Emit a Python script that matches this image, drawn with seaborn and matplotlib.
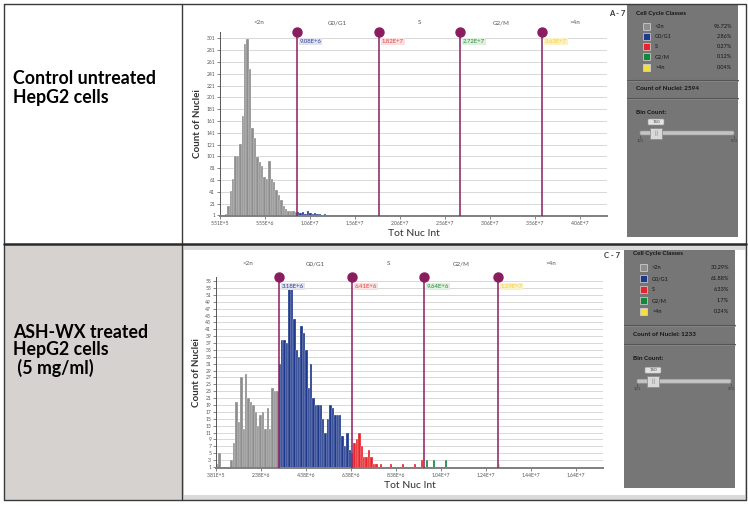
import matplotlib
matplotlib.use("Agg")
import matplotlib.pyplot as plt
import matplotlib.transforms as mtransforms
from matplotlib.patches import Rectangle, FancyBboxPatch
import seaborn as sns
import numpy as np
import pandas as pd

W, H = 748, 508

# ---- data -------------------------------------------------------------
classes = ["<2n", "G0/G1", "S", "G2/M", ">4n"]
class_colors = ["#8e8e8e", "#1f3a8c", "#e8232b", "#17863b", "#f3df45"]
cursor_text_colors = ["#2c3f9c", "#e4413d", "#2a8c3c", "#f0d23a"]
cursor_text_bg = ["#e1e2ee", "#f8e0e0", "#ddefdd", "#fbf1c6"]
n_bins = 150

# panel A: control untreated HepG2
a_range = (5.51e5, 4.07e7)
a_cursors = [9.08e6, 1.82e7, 2.72e7, 3.63e7]
a_cursor_labels = ["9.08E+6", "1.82E+7", "2.72E+7", "3.63E+7"]
a_lt2n = [2, 1, 3, 17, 42, 62, 101, 102, 122, 170, 292, 300, 249, 150, 132, 100,
          92, 84, 66, 62, 93, 62, 58, 44, 36, 27, 17, 12, 9, 8, 9, 6]
a_g0g1 = [6, 5, 7, 4, 8, 5, 4, 5, 3, 4, 2, 3, 2, 1, 2, 1, 0, 0, 1, 2, 1, 2, 1, 0, 1, 0, 1]
a_s_nuclei = [1.92e7, 2.13e7, 2.28e7, 2.33e7, 2.38e7, 2.44e7, 2.49e7]
a_g2m_nuclei = [2.83e7, 2.85e7, 3.31e7]
a_gt4n_nuclei = [4.06e7]
a_pct = ["96.72%", "2.86%", "0.27%", "0.12%", "0.04%"]
a_total = 2594
a_xticks = [5.51e5, 5.551e6, 1.0551e7, 1.5551e7, 2.0551e7, 2.5551e7, 3.0551e7, 3.5551e7, 4.0551e7]
a_xticklabels = ["5.51E+5", "5.55E+6", "1.06E+7", "1.56E+7", "2.06E+7",
                 "2.56E+7", "3.06E+7", "3.56E+7", "4.06E+7"]
a_yticks = list(range(1, 302, 20))

# panel C: ASH-WX treated HepG2 (5 mg/ml)
c_range = (3.81e5, 1.645e7)
c_cursors = [3.18e6, 6.41e6, 9.64e6, 1.29e7]
c_cursor_labels = ["3.18E+6", "6.41E+6", "9.64E+6", "1.29E+7"]
c_lt2n = [2, 5, 1, 1, 1, 1, 3, 8, 20, 14, 27, 12, 28, 21, 20, 19, 17, 13, 16, 17,
          12, 18, 12, 24, 23, 23]
c_g0g1 = [31, 38, 38, 37, 53, 53, 44, 35, 33, 42, 40, 35, 24, 31, 21, 19, 19, 19,
          15, 11, 15, 19, 18, 16, 16, 16, 10, 7, 11, 6]
c_s = [5, 8, 9, 11, 7, 4, 4, 6, 4, 2, 2, 1, 2, 0, 1, 1, 2, 0, 1, 0, 0, 2, 0, 1,
       0, 0, 2, 0, 1, 3]
c_g2m = [1, 3, 1, 1, 3, 1, 0, 1, 0, 3, 1, 0, 0, 0, 0, 0, 0, 0, 0, 1, 0, 0, 1, 0,
         1, 1, 0, 1, 0, 1]
c_gt4n_nuclei = [1.30e7, 1.30e7, 1.64e7]
c_pct = ["30.29%", "61.88%", "6.33%", "1.7%", "0.24%"]
c_total = 1233
c_xticks = [3.81e5, 2.381e6, 4.381e6, 6.381e6, 8.381e6, 1.0381e7, 1.2381e7, 1.4381e7, 1.6381e7]
c_xticklabels = ["3.81E+5", "2.38E+6", "4.38E+6", "6.38E+6", "8.38E+6",
                 "1.04E+7", "1.24E+7", "1.44E+7", "1.64E+7"]
c_yticks = list(range(1, 56, 2))
bin_count = 150

sns.set_theme(style="white")
plt.rcParams["font.family"] = ["Lato", "DejaVu Sans"]

CURSOR = "#8a1d60"


def px_box(x0, y0, x1, y1):
    return [x0 / W, 1 - y1 / H, (x1 - x0) / W, (y1 - y0) / H]


def hist_frame(lo, hi, dense, sparse, cursors):
    edges = np.linspace(lo, hi, n_bins + 1)
    centers = (edges[:-1] + edges[1:]) / 2
    starts = [0] + [int(np.searchsorted(centers, c)) for c in cursors]
    rows = []
    for cls, start in zip(classes, starts):
        for k, n in enumerate(dense.get(cls, [])):
            rows.append((centers[start + k], n, cls))
        for v in sparse.get(cls, []):
            rows.append((v, 1, cls))
    return pd.DataFrame(rows, columns=["intensity", "count", "cls"])


def draw_panel(ax, df, binrange, xlim, ylim, xticks, xticklabels, yticks,
               cursors, cursor_labels, header_pts):
    ax.set_facecolor("none")
    sns.histplot(data=df, x="intensity", weights="count", hue="cls",
                 hue_order=classes, palette=dict(zip(classes, class_colors)),
                 bins=n_bins, binrange=binrange, alpha=1, edgecolor="white",
                 linewidth=0.2, legend=False, ax=ax)
    ax.set_xlim(*xlim)
    ax.set_ylim(*ylim)
    ax.set_xticks(xticks)
    ax.set_xticklabels(xticklabels)
    ax.set_yticks(yticks)
    ax.grid(axis="y", color="#d8d8d8", lw=0.7)
    ax.set_axisbelow(True)
    for s in ["top", "right"]:
        ax.spines[s].set_visible(False)
    ax.spines["left"].set_color("#555555")
    ax.spines["left"].set_linewidth(0.7)
    ax.spines["bottom"].set_color("#808080")
    ax.spines["bottom"].set_linewidth(1.4)
    ax.tick_params(axis="both", labelsize=3.6, colors="#555555", length=2,
                   width=0.5, pad=1.5, left=True, bottom=True)
    ax.set_xlabel("Tot Nuc Int", fontsize=7.5, color="#333333", labelpad=2)
    ax.set_ylabel("Count of Nuclei", fontsize=7, fontweight="bold",
                  color="#333333", labelpad=3)

    trans = mtransforms.blended_transform_factory(ax.transData, ax.transAxes)
    bounds = [xlim[0]] + cursors + [xlim[1]]
    for i, cls in enumerate(classes):
        ax.annotate(cls, xy=((bounds[i] + bounds[i + 1]) / 2, 1), xycoords=trans,
                    xytext=(0, header_pts), textcoords="offset points",
                    ha="center", va="center", fontsize=4.5, color="#555555")
    for i, c in enumerate(cursors):
        ax.axvline(c, color=CURSOR, lw=1.1, zorder=4)
        ax.plot([c], [1.0], transform=trans, marker="o", ms=6.5, color=CURSOR,
                clip_on=False, zorder=5)
        ax.annotate(cursor_labels[i], xy=(c, 1), xycoords=trans, xytext=(2, -7),
                    textcoords="offset points", ha="left", va="center",
                    fontsize=4.3, color=cursor_text_colors[i], zorder=6,
                    bbox=dict(boxstyle="square,pad=0.15", fc=cursor_text_bg[i], ec="none"))


def draw_sidebar(bg, x0, y0, x1, y1, title_y, scale, pcts, total):
    bg.add_patch(Rectangle((x0, y0), x1 - x0, y1 - y0, fc="#767676", ec="none"))
    tc = "#141414"
    bg.text(x0 + 9, title_y, "Cell Cycle Classes", fontsize=4.6, fontweight="bold",
            color=tc, va="center")
    for k, cls in enumerate(classes):
        yy = title_y + scale * (13 + 10.3 * k)
        bg.add_patch(Rectangle((x0 + 16, yy - 3.5), 7, 7, fc=class_colors[k],
                               ec="#d8d8d8", lw=0.5))
        bg.text(x0 + 28, yy, cls, fontsize=4, color=tc, va="center")
        bg.text(x1 - 6, yy, pcts[k], fontsize=4, color=tc, va="center", ha="right")
    for off in (67, 85):
        yy = title_y + scale * off
        bg.plot([x0, x1], [yy, yy], color="#555555", lw=0.8)
        bg.plot([x0, x1], [yy + 1, yy + 1], color="#8a8a8a", lw=0.5)
    bg.text(x0 + 9, title_y + scale * 76, f"Count of Nuclei: {total}", fontsize=4.6,
            fontweight="bold", color=tc, va="center")
    bg.text(x0 + 9, title_y + scale * 99, "Bin Count:", fontsize=4.6,
            fontweight="bold", color=tc, va="center")
    ty = title_y + scale * 120
    bg.add_patch(FancyBboxPatch((x0 + 13, ty - 2), 94, 4,
                                boxstyle="round,pad=0,rounding_size=1.5",
                                fc="#c4c4c4", ec="#9a9a9a", lw=0.4))
    bg.add_patch(Rectangle((x0 + 23, ty - 5.5), 12, 11, fc="#d9d9d9", ec="#8a8a8a", lw=0.5))
    bg.text(x0 + 29, ty, "|||", fontsize=3.5, color="#777777", ha="center", va="center")
    bg.add_patch(FancyBboxPatch((x0 + 21, ty - 14), 16, 6,
                                boxstyle="round,pad=0,rounding_size=1",
                                fc="#e3e3e3", ec="#9a9a9a", lw=0.4))
    bg.text(x0 + 29, ty - 11, str(bin_count), fontsize=3.2, color="#444444",
            ha="center", va="center")
    for xx, lab in ((x0 + 13, "100"), (x0 + 107, "500")):
        bg.plot([xx, xx], [ty + 3, ty + 5], color="#333333", lw=0.4)
        bg.text(xx, ty + 7.5, lab, fontsize=2.8, color="#333333", ha="center", va="center")


fig = plt.figure(figsize=(W / 100, H / 100), dpi=100)
bg = fig.add_axes([0, 0, 1, 1])
bg.set_xlim(0, W)
bg.set_ylim(H, 0)
bg.axis("off")

# table cells
bg.add_patch(Rectangle((4, 244), 178, 256, fc="#d6d2d0", ec="none"))
bg.add_patch(Rectangle((182, 244), 564, 256, fc="#dadada", ec="none"))
bg.add_patch(Rectangle((184, 250), 561, 245, fc="white", ec="none"))
line_kw = dict(color="#3a3a3a", lw=1.0)
bg.plot([4, 746, 746, 4, 4], [4, 4, 500, 500, 4], **line_kw)
bg.plot([182, 182], [4, 500], **line_kw)
bg.plot([4, 746], [244, 244], color="#2a2a2a", lw=1.8)

# row labels
lab_kw = dict(fontsize=12.8, fontweight="bold", color="black", va="center", ha="left")
bg.text(13, 78, "Control untreated", **lab_kw)
bg.text(13, 97, "HepG2 cells", **lab_kw)
bg.text(13, 332, "ASH-WX treated", **lab_kw)
bg.text(13, 350, "HepG2 cells", **lab_kw)
bg.text(13, 368, " (5 mg/ml)", **lab_kw)

# panel tags
bg.text(617, 13, "A - 7", fontsize=5.5, fontweight="bold", color="#333333",
        ha="center", va="center")
bg.text(612, 256, "C - 7", fontsize=5.5, fontweight="bold", color="#333333",
        ha="center", va="center")

draw_sidebar(bg, 627, 5, 738, 237, 13, 1.0, a_pct, a_total)
draw_sidebar(bg, 624, 250, 735, 488, 254, 1.06, c_pct, c_total)

# histograms
df_a = hist_frame(*a_range, {"<2n": a_lt2n, "G0/G1": a_g0g1},
                  {"S": a_s_nuclei, "G2/M": a_g2m_nuclei, ">4n": a_gt4n_nuclei},
                  a_cursors)
ax_a = fig.add_axes(px_box(220, 32, 607, 216))
draw_panel(ax_a, df_a, a_range, (5.51e5, 4.355e7), (0, 312), a_xticks, a_xticklabels,
           a_yticks, a_cursors, a_cursor_labels, 6.5)

df_c = hist_frame(*c_range,
                  {"<2n": c_lt2n, "G0/G1": c_g0g1, "S": c_s, "G2/M": c_g2m},
                  {">4n": c_gt4n_nuclei}, c_cursors)
ax_c = fig.add_axes(px_box(216, 277, 603, 468))
draw_panel(ax_c, df_c, c_range, (3.81e5, 1.758e7), (0.7, 56.2), c_xticks, c_xticklabels,
           c_yticks, c_cursors, c_cursor_labels, 9.4)

fig.savefig("out.png", dpi=100)
